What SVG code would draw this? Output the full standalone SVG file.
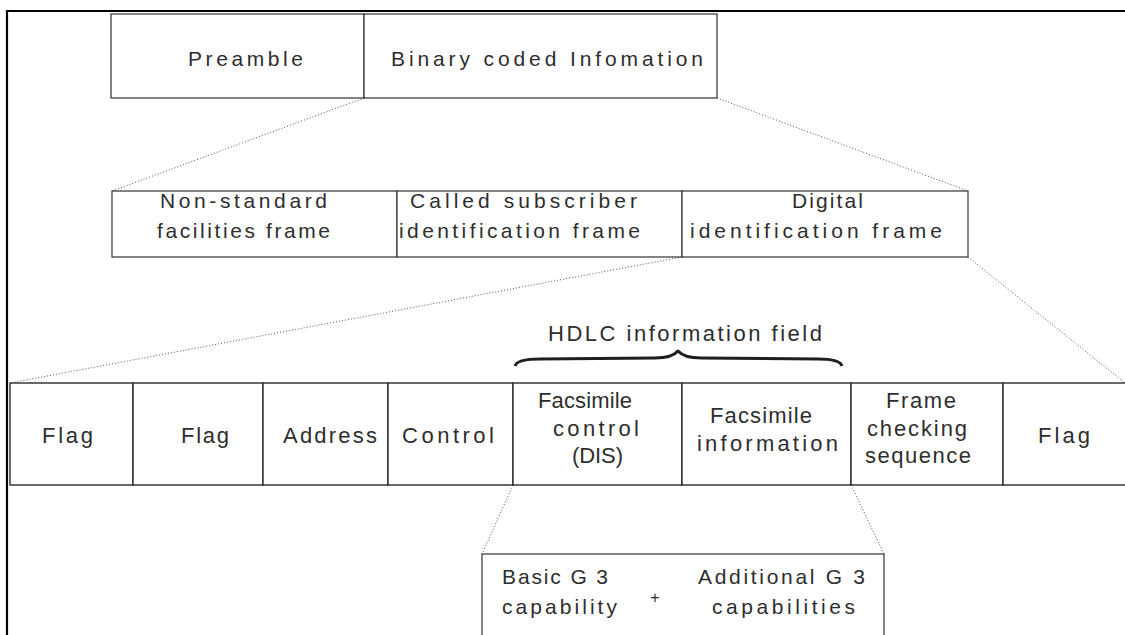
<svg xmlns="http://www.w3.org/2000/svg" width="1125" height="635" viewBox="0 0 1125 635">
  <style>
    .box { fill: #ffffff; stroke: #333333; stroke-width: 1.2; }
    .cell { fill: #ffffff; stroke: #2a2a2a; stroke-width: 1.4; }
    .t { font-family: "Liberation Sans", Arial, sans-serif; fill: #2e2e2e; }
    .s21 { font-size: 21px; }
    .s22 { font-size: 22px; }
    .dot { fill: none; stroke: #555555; stroke-width: 1; stroke-dasharray: 1 2; }
    .frame { fill: none; stroke: #000000; stroke-width: 2.2; }
  </style>

  <rect width="1125" height="635" fill="#ffffff"/>

  <!-- page frame: top rule and left rule -->
  <path class="frame" d="M6,11 H1125 M7,10 V635"/>

  <!-- dotted expansion lines between levels -->
  <g id="connectors">
    <line class="dot" x1="364" y1="98" x2="112" y2="191"/>
    <line class="dot" x1="717" y1="98" x2="968" y2="191"/>
    <line class="dot" x1="682" y1="257" x2="10" y2="383"/>
    <line class="dot" x1="968" y1="257" x2="1125" y2="383"/>
    <line class="dot" x1="513" y1="485" x2="482" y2="554"/>
    <line class="dot" x1="851" y1="485" x2="884" y2="554"/>
  </g>

  <!-- level 1 -->
  <g id="preamble">
    <rect class="box" x="111" y="14" width="253" height="84"/>
    <text class="t s21" x="188" y="66" textLength="115" lengthAdjust="spacing">Preamble</text>
  </g>
  <g id="binary-coded-information">
    <rect class="box" x="364" y="14" width="353" height="84"/>
    <text class="t s21" x="391" y="66" textLength="312" lengthAdjust="spacing">Binary coded Infomation</text>
  </g>

  <!-- level 2 -->
  <g id="nsf">
    <rect class="box" x="112" y="191" width="285" height="66"/>
    <text class="t s21" x="160" y="208" textLength="167" lengthAdjust="spacing">Non-standard</text>
    <text class="t s21" x="157" y="238" textLength="173" lengthAdjust="spacing">facilities frame</text>
  </g>
  <g id="csi">
    <rect class="box" x="397" y="191" width="285" height="66"/>
    <text class="t s21" x="410" y="208" textLength="227" lengthAdjust="spacing">Called subscriber</text>
    <text class="t s21" x="399" y="238" textLength="241" lengthAdjust="spacing">identification frame</text>
  </g>
  <g id="dis-frame">
    <rect class="box" x="682" y="191" width="286" height="66"/>
    <text class="t s21" x="792" y="208" textLength="71" lengthAdjust="spacing">Digital</text>
    <text class="t s21" x="690" y="238" textLength="252" lengthAdjust="spacing">identification frame</text>
  </g>

  <!-- HDLC information field brace -->
  <g id="hdlc-information-field">
    <text class="t s22" x="548" y="341" textLength="274" lengthAdjust="spacing">HDLC  information field</text>
    <path d="M515,366 Q517,359 540,359 L655,358 Q672,358 678,351 Q684,358 701,358 L818,359 Q840,359 842,366" fill="none" stroke="#1e1e1e" stroke-width="3" stroke-linejoin="round"/>
  </g>

  <!-- level 3: HDLC frame -->
  <g id="flag-1">
    <rect class="cell" x="10" y="383" width="123" height="102"/>
    <text class="t s22" x="42" y="443" textLength="51" lengthAdjust="spacing">Flag</text>
  </g>
  <g id="flag-2">
    <rect class="cell" x="133" y="383" width="130" height="102"/>
    <text class="t s22" x="181" y="443" textLength="48" lengthAdjust="spacing">Flag</text>
  </g>
  <g id="address">
    <rect class="cell" x="263" y="383" width="125" height="102"/>
    <text class="t s22" x="283" y="443" textLength="94" lengthAdjust="spacing">Address</text>
  </g>
  <g id="control">
    <rect class="cell" x="388" y="383" width="125" height="102"/>
    <text class="t s22" x="402" y="443" textLength="92" lengthAdjust="spacing">Control</text>
  </g>
  <g id="facsimile-control">
    <rect class="cell" x="513" y="383" width="169" height="102"/>
    <text class="t s22" x="538" y="408" textLength="94" lengthAdjust="spacing">Facsimile</text>
    <text class="t s22" x="553" y="436" textLength="86" lengthAdjust="spacing">control</text>
    <text class="t s22" x="572" y="463" textLength="51" lengthAdjust="spacing">(DIS)</text>
  </g>
  <g id="facsimile-information">
    <rect class="cell" x="682" y="383" width="169" height="102"/>
    <text class="t s22" x="710" y="423" textLength="102" lengthAdjust="spacing">Facsimile</text>
    <text class="t s22" x="697" y="451" textLength="141" lengthAdjust="spacing">information</text>
  </g>
  <g id="frame-checking-sequence">
    <rect class="cell" x="851" y="383" width="152" height="102"/>
    <text class="t s22" x="886" y="408" textLength="70" lengthAdjust="spacing">Frame</text>
    <text class="t s22" x="867" y="436" textLength="100" lengthAdjust="spacing">checking</text>
    <text class="t s22" x="865" y="463" textLength="106" lengthAdjust="spacing">sequence</text>
  </g>
  <g id="flag-3">
    <rect class="cell" x="1003" y="383" width="130" height="102"/>
    <text class="t s22" x="1038" y="443" textLength="52" lengthAdjust="spacing">Flag</text>
  </g>

  <!-- level 4: DIS capabilities -->
  <g id="g3-capabilities">
    <rect class="box" x="482" y="554" width="402" height="90"/>
    <text class="t s21" x="502" y="584" textLength="106" lengthAdjust="spacing">Basic G 3</text>
    <text class="t s21" x="502" y="614" textLength="115" lengthAdjust="spacing">capability</text>
    <text class="t" x="655" y="603" font-size="16" text-anchor="middle">+</text>
    <text class="t s21" x="698" y="584" textLength="167" lengthAdjust="spacing">Additional G 3</text>
    <text class="t s21" x="712" y="614" textLength="143" lengthAdjust="spacing">capabilities</text>
  </g>
</svg>
